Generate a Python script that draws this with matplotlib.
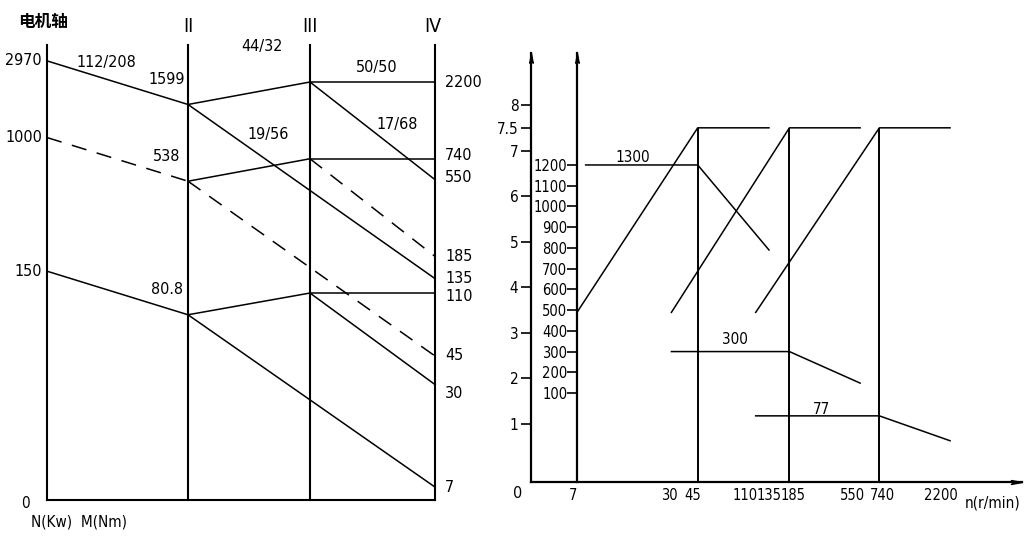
import matplotlib
matplotlib.use('Agg')
import matplotlib.pyplot as plt
from matplotlib.path import Path
from matplotlib.ticker import NullLocator

plt.rcParams['font.family'] = ['DejaVu Sans']
plt.rcParams['font.stretch'] = 'condensed'

# ---- 转速图 (speed diagram) ----
motor_n = [2970, 1000, 150]
shaft2_n = [1599, 538, 80.8]
shaft3_n = [2200, 740, 110]
shaft4_n = [2200, 740, 550, 185, 135, 110, 45, 30, 7]
shaft_names = ['II', 'III', 'IV']
ratio_labels = ['112/208', '44/32', '19/56', '50/50', '17/68']

# (from shaft, from n, to shaft, to n)
solid_links = [(0, 2970, 1, 1599), (0, 150, 1, 80.8),
               (1, 1599, 2, 2200), (1, 1599, 3, 135),
               (1, 538, 2, 740), (1, 80.8, 2, 110), (1, 80.8, 3, 7),
               (2, 2200, 3, 2200), (2, 2200, 3, 550), (2, 740, 3, 740),
               (2, 110, 3, 110), (2, 110, 3, 30)]
dashed_links = [(0, 1000, 1, 538), (1, 538, 3, 45), (2, 740, 3, 185)]

# ---- 功率 / 扭矩 vs 转速 ----
tick_speeds = [7, 30, 45, 110, 135, 185, 550, 740, 2200]
power_ticks = [1, 2, 3, 4, 5, 6, 7, 7.5, 8]
torque_ticks = [100, 200, 300, 400, 500, 600, 700, 800, 900, 1000, 1100, 1200]
power_speed = [[7, 45, 135], [30, 185, 550], [110, 740, 2200]]
power_kw = [[3.45, 7.5, 7.5], [3.45, 7.5, 7.5], [3.45, 7.5, 7.5]]
knee_speeds = [45, 185, 740]
torque_speed = [[8, 45, 135], [30, 185, 550], [110, 740, 2200]]
torque_nm = [[1200, 1200, 790], [300, 300, 148], [-10, -10, -130]]
torque_labels = ['1300', '300', '77']

W, H = 1032, 549
fig = plt.figure(figsize=(W / 100, H / 100), dpi=100)


def px(x, y):
    return x / W, 1 - y / H


# ---------------- left: speed diagram ----------------
ax1 = fig.add_axes([0, 0, 1, 1])
ax1.set_xlim(0, W)
ax1.set_yscale('log')
ax1.set_ylim(2.906, 7047)
ax1.axis('off')

shaft_x = [47, 188, 310, 435]
n_bot, n_top = 5.83, 3720

for x in shaft_x:
    ax1.plot([x, x], [n_bot, n_top], color='k', lw=1.5)
ax1.plot([shaft_x[0], shaft_x[-1]], [n_bot, n_bot], color='k', lw=1.5)

for a, na, b, nb in solid_links:
    ax1.plot([shaft_x[a], shaft_x[b]], [na, nb], color='k', lw=1.1)
for a, na, b, nb in dashed_links:
    ax1.plot([shaft_x[a], shaft_x[b]], [na, nb], color='k', lw=1.1,
             linestyle=(0, (10, 7)))

for n in motor_n:
    ax1.text(42, n, str(n), ha='right', va='center', fontsize=11.5)
for n in shaft2_n:
    ax1.annotate(str(n), (shaft_x[1], n), xytext=(-21, 25),
                 textcoords='offset pixels', ha='center', va='center',
                 fontsize=11.5)
iv_off = {740: 3, 550: 2, 110: -3, 30: -9}
for n in shaft4_n:
    ax1.annotate(str(n), (shaft_x[3], n), xytext=(10, iv_off.get(n, 0)),
                 textcoords='offset pixels', ha='left', va='center',
                 fontsize=11.5)

fig.text(*px(43, 22), '电机轴', family=['Noto Sans CJK SC', 'DejaVu Sans'],
         fontsize=12, weight='bold', ha='center', va='center')
for name, x in zip(shaft_names, [188, 310, 433]):
    fig.text(*px(x, 27), name, fontsize=14, ha='center', va='center')
for lab, (x, y) in zip(ratio_labels,
                       [(106, 62), (262, 47), (268, 135), (377, 67), (397, 125)]):
    fig.text(*px(x, y), lab, fontsize=11.5, ha='center', va='center')
fig.text(*px(25, 503), '0', fontsize=11, ha='center', va='center')
fig.text(*px(79, 522), 'N(Kw)  M(Nm)', fontsize=11, ha='center', va='center')

# ---------------- right: power / torque ----------------
ax2 = fig.add_axes([531 / W, (H - 482) / H, 491 / W, 429 / H])
ax2.set_xscale('log')
ax2.set_xlim(3.445, 6670)
ax2.set_ylim(-0.272, 9.142)
ax2.patch.set_visible(False)
for s in ['top', 'right']:
    ax2.spines[s].set_visible(False)
for s in ['left', 'bottom']:
    ax2.spines[s].set_linewidth(1.6)

ax2.set_yticks(power_ticks)
ax2.set_yticklabels([f'{t:g}' for t in power_ticks])
ax2.tick_params(axis='y', direction='out', length=7, width=1.2, pad=2,
                labelsize=11)
ax2.set_xticks(tick_speeds)
ax2.xaxis.set_minor_locator(NullLocator())
ax2.tick_params(axis='x', length=0, labelbottom=False)

# speed labels under the axis, nudged apart like the drawing
tick_dx = [-4, -2, -5, -11, 0, 4, -8, 3, -9]
for s, dx in zip(tick_speeds, tick_dx):
    ax2.annotate(str(s), (s, 0), xycoords=ax2.get_xaxis_transform(),
                 xytext=(dx, -13), textcoords='offset pixels',
                 ha='center', va='center', fontsize=10.5)

ax3 = ax2.twinx()
ax3.set_ylim(-329, 1740)
for s in ['top', 'right', 'bottom']:
    ax3.spines[s].set_visible(False)
ax3.spines['left'].set_visible(True)
ax3.spines['left'].set_position(('data', 7))
ax3.spines['left'].set_linewidth(1.6)
ax3.yaxis.set_ticks_position('left')
ax3.yaxis.set_label_position('left')
ax3.set_yticks(torque_ticks)
ax3.tick_params(axis='y', direction='out', length=7, width=1.2, pad=0,
                labelsize=10.5)

for xs, ys in zip(power_speed, power_kw):
    ax2.plot(xs, ys, color='k', lw=1.1)
ax2.vlines(knee_speeds, -0.272, 7.5, color='k', lw=1.4)
for xs, ys in zip(torque_speed, torque_nm):
    ax3.plot(xs, ys, color='k', lw=1.1)

for lab, (x, y) in zip(torque_labels, [(633, 157), (735, 340), (822, 410)]):
    fig.text(*px(x, y), lab, fontsize=11, ha='center', va='center')

fig.text(*px(518, 493), '0', fontsize=11.5, ha='center', va='center')
fig.text(*px(993, 503), 'n(r/min)', fontsize=11, ha='center', va='center')

arrow_up = Path([(0, 0), (-0.35, -2), (0, -1.5), (0.35, -2), (0, 0)],
                [Path.MOVETO, Path.LINETO, Path.LINETO, Path.LINETO, Path.CLOSEPOLY])
arrow_right = Path([(0, 0), (-2, 0.35), (-1.5, 0), (-2, -0.35), (0, 0)],
                   [Path.MOVETO, Path.LINETO, Path.LINETO, Path.LINETO, Path.CLOSEPOLY])
ax2.plot([3.445], [9.142], marker=arrow_up, ms=14, color='k', clip_on=False)
ax2.plot([7], [9.142], marker=arrow_up, ms=14, color='k', clip_on=False)
ax2.plot([6670], [-0.272], marker=arrow_right, ms=16, color='k', clip_on=False)

fig.savefig('out.png', dpi=100)
